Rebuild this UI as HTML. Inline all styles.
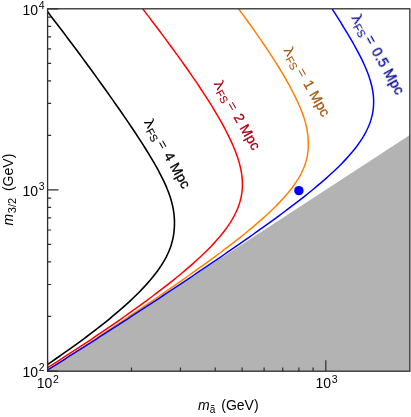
<!DOCTYPE html>
<html><head><meta charset="utf-8"><title>plot</title>
<style>html,body{margin:0;padding:0;background:#fff;}svg{display:block;}text{font-family:"Liberation Sans",sans-serif;}</style></head><body>
<svg width="411" height="417" viewBox="0 0 411 417">
<rect x="0" y="0" width="411" height="417" fill="#ffffff"/>
<clipPath id="c"><rect x="47.8" y="8.8" width="361.7" height="362.09999999999997"/></clipPath>
<polygon points="47.8,370.9 409.85,135.12 409.85,371.2 47.8,371.2" fill="#b3b3b3"/>
<g clip-path="url(#c)" fill="none" stroke-linejoin="round">
<path d="M38.57,370.90 L41.77,368.62 L44.96,366.35 L48.19,364.07 L51.48,361.79 L54.76,359.51 L58.05,357.24 L61.32,354.96 L64.56,352.68 L67.79,350.40 L70.98,348.13 L74.15,345.85 L77.29,343.57 L80.41,341.29 L83.50,339.02 L86.56,336.74 L89.59,334.46 L92.59,332.18 L95.56,329.91 L98.49,327.63 L101.39,325.35 L104.26,323.08 L107.09,320.80 L109.89,318.52 L112.65,316.24 L115.37,313.97 L118.04,311.69 L120.68,309.41 L123.27,307.13 L125.83,304.86 L128.33,302.58 L130.79,300.30 L133.19,298.02 L135.55,295.75 L137.85,293.47 L140.10,291.19 L142.30,288.92 L144.44,286.64 L146.52,284.36 L148.54,282.08 L150.49,279.81 L152.38,277.53 L154.21,275.25 L155.96,272.97 L157.65,270.70 L159.26,268.42 L160.80,266.14 L162.26,263.86 L163.65,261.59 L164.95,259.31 L166.17,257.03 L167.30,254.75 L168.35,252.48 L169.31,250.20 L170.19,247.92 L170.98,245.65 L171.68,243.37 L172.30,241.09 L172.83,238.81 L173.29,236.54 L173.67,234.26 L173.97,231.98 L174.19,229.70 L174.36,227.43 L174.45,225.15 L174.48,222.87 L174.43,220.59 L174.33,218.32 L174.16,216.04 L173.92,213.76 L173.62,211.48 L173.25,209.21 L172.81,206.93 L172.31,204.65 L171.74,202.38 L171.11,200.10 L170.42,197.82 L169.67,195.54 L168.87,193.27 L168.01,190.99 L167.10,188.71 L166.14,186.43 L165.14,184.16 L164.09,181.88 L163.01,179.60 L161.89,177.32 L160.74,175.05 L159.55,172.77 L158.34,170.49 L157.09,168.22 L155.82,165.94 L154.53,163.66 L153.21,161.38 L151.88,159.11 L150.52,156.83 L149.14,154.55 L147.75,152.27 L146.34,150.00 L144.92,147.72 L143.48,145.44 L142.03,143.16 L140.56,140.89 L139.08,138.61 L137.60,136.33 L136.10,134.05 L134.59,131.78 L133.07,129.50 L131.55,127.22 L130.01,124.95 L128.47,122.67 L126.92,120.39 L125.37,118.11 L123.80,115.84 L122.23,113.56 L120.66,111.28 L119.08,109.00 L117.49,106.73 L115.90,104.45 L114.30,102.17 L112.70,99.89 L111.09,97.62 L109.48,95.34 L107.87,93.06 L106.25,90.78 L104.62,88.51 L102.99,86.23 L101.36,83.95 L99.72,81.68 L98.08,79.40 L96.44,77.12 L94.79,74.84 L93.14,72.57 L91.48,70.29 L89.82,68.01 L88.15,65.73 L86.49,63.46 L84.81,61.18 L83.14,58.90 L81.46,56.62 L79.78,54.35 L78.09,52.07 L76.40,49.79 L74.70,47.52 L73.00,45.24 L71.30,42.96 L69.59,40.68 L67.88,38.41 L66.16,36.13 L64.45,33.85 L62.72,31.57 L61.00,29.30 L59.26,27.02 L57.53,24.74 L55.79,22.46 L54.04,20.19 L52.29,17.91 L50.54,15.63 L48.81,13.35 L47.09,11.08 L45.41,8.80" stroke="#000000" stroke-width="1.6"/>
<path d="M42.79,370.90 L46.24,368.62 L49.73,366.35 L53.25,364.07 L56.82,361.79 L60.38,359.51 L63.91,357.24 L67.45,354.96 L70.95,352.68 L74.45,350.40 L77.92,348.13 L81.39,345.85 L84.83,343.57 L88.27,341.29 L91.68,339.02 L95.08,336.74 L98.46,334.46 L101.83,332.18 L105.18,329.91 L108.51,327.63 L111.82,325.35 L115.12,323.08 L118.39,320.80 L121.65,318.52 L124.89,316.24 L128.11,313.97 L131.32,311.69 L134.50,309.41 L137.66,307.13 L140.80,304.86 L143.91,302.58 L147.01,300.30 L150.07,298.02 L153.12,295.75 L156.14,293.47 L159.14,291.19 L162.10,288.92 L165.05,286.64 L167.96,284.36 L170.84,282.08 L173.69,279.81 L176.51,277.53 L179.29,275.25 L182.04,272.97 L184.76,270.70 L187.44,268.42 L190.07,266.14 L192.67,263.86 L195.22,261.59 L197.73,259.31 L200.19,257.03 L202.61,254.75 L204.97,252.48 L207.28,250.20 L209.53,247.92 L211.73,245.65 L213.87,243.37 L215.94,241.09 L217.95,238.81 L219.90,236.54 L221.77,234.26 L223.58,231.98 L225.31,229.70 L226.97,227.43 L228.55,225.15 L230.05,222.87 L231.47,220.59 L232.81,218.32 L234.06,216.04 L235.23,213.76 L236.31,211.48 L237.31,209.21 L238.21,206.93 L239.03,204.65 L239.76,202.38 L240.40,200.10 L240.95,197.82 L241.41,195.54 L241.78,193.27 L242.07,190.99 L242.27,188.71 L242.39,186.43 L242.42,184.16 L242.38,181.88 L242.26,179.60 L242.07,177.32 L241.80,175.05 L241.46,172.77 L241.05,170.49 L240.58,168.22 L240.05,165.94 L239.46,163.66 L238.82,161.38 L238.12,159.11 L237.37,156.83 L236.57,154.55 L235.73,152.27 L234.85,150.00 L233.92,147.72 L232.96,145.44 L231.96,143.16 L230.92,140.89 L229.86,138.61 L228.76,136.33 L227.63,134.05 L226.47,131.78 L225.29,129.50 L224.08,127.22 L222.85,124.95 L221.60,122.67 L220.32,120.39 L219.02,118.11 L217.70,115.84 L216.36,113.56 L215.01,111.28 L213.63,109.00 L212.24,106.73 L210.83,104.45 L209.41,102.17 L207.97,99.89 L206.51,97.62 L205.05,95.34 L203.56,93.06 L202.07,90.78 L200.56,88.51 L199.04,86.23 L197.51,83.95 L195.97,81.68 L194.42,79.40 L192.85,77.12 L191.28,74.84 L189.70,72.57 L188.11,70.29 L186.51,68.01 L184.90,65.73 L183.28,63.46 L181.66,61.18 L180.02,58.90 L178.39,56.62 L176.74,54.35 L175.09,52.07 L173.43,49.79 L171.76,47.52 L170.09,45.24 L168.41,42.96 L166.73,40.68 L165.04,38.41 L163.35,36.13 L161.65,33.85 L159.95,31.57 L158.25,29.30 L156.54,27.02 L154.82,24.74 L153.10,22.46 L151.38,20.19 L149.65,17.91 L147.93,15.63 L146.19,13.35 L144.46,11.08 L142.72,8.80" stroke="#ff0000" stroke-width="1.5"/>
<path d="M47.28,370.90 L50.73,368.62 L54.19,366.35 L57.64,364.07 L61.09,361.79 L64.54,359.51 L67.99,357.24 L71.44,354.96 L74.88,352.68 L78.32,350.40 L81.76,348.13 L85.19,345.85 L88.62,343.57 L92.05,341.29 L95.48,339.02 L98.90,336.74 L102.32,334.46 L105.74,332.18 L109.15,329.91 L112.55,327.63 L115.96,325.35 L119.36,323.08 L122.75,320.80 L126.14,318.52 L129.52,316.24 L132.90,313.97 L136.27,311.69 L139.64,309.41 L143.00,307.13 L146.35,304.86 L149.70,302.58 L153.03,300.30 L156.36,298.02 L159.69,295.75 L163.00,293.47 L166.30,291.19 L169.60,288.92 L172.88,286.64 L176.16,284.36 L179.42,282.08 L182.67,279.81 L185.91,277.53 L189.14,275.25 L192.35,272.97 L195.55,270.70 L198.73,268.42 L201.90,266.14 L205.06,263.86 L208.19,261.59 L211.31,259.31 L214.40,257.03 L217.48,254.75 L220.54,252.48 L223.57,250.20 L226.58,247.92 L229.57,245.65 L232.53,243.37 L235.46,241.09 L238.36,238.81 L241.24,236.54 L244.08,234.26 L246.89,231.98 L249.66,229.70 L252.40,227.43 L255.10,225.15 L257.75,222.87 L260.37,220.59 L262.94,218.32 L265.47,216.04 L267.95,213.76 L270.37,211.48 L272.75,209.21 L275.07,206.93 L277.33,204.65 L279.53,202.38 L281.67,200.10 L283.74,197.82 L285.75,195.54 L287.69,193.27 L289.55,190.99 L291.34,188.71 L293.05,186.43 L294.68,184.16 L296.23,181.88 L297.69,179.60 L299.07,177.32 L300.35,175.05 L301.54,172.77 L302.63,170.49 L303.62,168.22 L304.52,165.94 L305.32,163.66 L306.01,161.38 L306.61,159.11 L307.11,156.83 L307.52,154.55 L307.84,152.27 L308.07,150.00 L308.23,147.72 L308.31,145.44 L308.32,143.16 L308.26,140.89 L308.13,138.61 L307.94,136.33 L307.68,134.05 L307.36,131.78 L306.98,129.50 L306.52,127.22 L306.01,124.95 L305.43,122.67 L304.79,120.39 L304.08,118.11 L303.33,115.84 L302.51,113.56 L301.65,111.28 L300.75,109.00 L299.79,106.73 L298.80,104.45 L297.78,102.17 L296.72,99.89 L295.62,97.62 L294.50,95.34 L293.35,93.06 L292.17,90.78 L290.97,88.51 L289.74,86.23 L288.49,83.95 L287.22,81.68 L285.93,79.40 L284.62,77.12 L283.29,74.84 L281.94,72.57 L280.57,70.29 L279.18,68.01 L277.78,65.73 L276.36,63.46 L274.93,61.18 L273.48,58.90 L272.01,56.62 L270.53,54.35 L269.04,52.07 L267.53,49.79 L266.01,47.52 L264.48,45.24 L262.93,42.96 L261.38,40.68 L259.81,38.41 L258.23,36.13 L256.64,33.85 L255.04,31.57 L253.43,29.30 L251.80,27.02 L250.18,24.74 L248.54,22.46 L246.89,20.19 L245.23,17.91 L243.57,15.63 L241.90,13.35 L240.22,11.08 L238.53,8.80" stroke="#ff8000" stroke-width="1.5"/>
<path d="M46.16,370.90 L49.72,368.62 L53.33,366.35 L56.94,364.07 L60.56,361.79 L64.17,359.51 L67.77,357.24 L71.37,354.96 L74.96,352.68 L78.55,350.40 L82.12,348.13 L85.70,345.85 L89.26,343.57 L92.82,341.29 L96.38,339.02 L99.93,336.74 L103.47,334.46 L107.01,332.18 L110.54,329.91 L114.07,327.63 L117.59,325.35 L121.10,323.08 L124.62,320.80 L128.12,318.52 L131.62,316.24 L135.11,313.97 L138.60,311.69 L142.08,309.41 L145.56,307.13 L149.03,304.86 L152.50,302.58 L155.96,300.30 L159.41,298.02 L162.86,295.75 L166.30,293.47 L169.74,291.19 L173.17,288.92 L176.59,286.64 L180.01,284.36 L183.43,282.08 L186.83,279.81 L190.23,277.53 L193.63,275.25 L197.01,272.97 L200.39,270.70 L203.77,268.42 L207.13,266.14 L210.49,263.86 L213.84,261.59 L217.18,259.31 L220.52,257.03 L223.84,254.75 L227.16,252.48 L230.47,250.20 L233.76,247.92 L237.05,245.65 L240.32,243.37 L243.59,241.09 L246.84,238.81 L250.08,236.54 L253.31,234.26 L256.53,231.98 L259.73,229.70 L262.92,227.43 L266.09,225.15 L269.24,222.87 L272.38,220.59 L275.50,218.32 L278.60,216.04 L281.68,213.76 L284.74,211.48 L287.78,209.21 L290.79,206.93 L293.78,204.65 L296.74,202.38 L299.68,200.10 L302.59,197.82 L305.46,195.54 L308.31,193.27 L311.12,190.99 L313.90,188.71 L316.64,186.43 L319.35,184.16 L322.01,181.88 L324.63,179.60 L327.21,177.32 L329.74,175.05 L332.22,172.77 L334.65,170.49 L337.03,168.22 L339.35,165.94 L341.62,163.66 L343.82,161.38 L345.97,159.11 L348.05,156.83 L350.06,154.55 L352.00,152.27 L353.87,150.00 L355.66,147.72 L357.38,145.44 L359.02,143.16 L360.58,140.89 L362.06,138.61 L363.46,136.33 L364.76,134.05 L365.99,131.78 L367.12,129.50 L368.16,127.22 L369.11,124.95 L369.98,122.67 L370.75,120.39 L371.42,118.11 L372.01,115.84 L372.51,113.56 L372.91,111.28 L373.23,109.00 L373.45,106.73 L373.59,104.45 L373.65,102.17 L373.61,99.89 L373.50,97.62 L373.31,95.34 L373.04,93.06 L372.69,90.78 L372.27,88.51 L371.78,86.23 L371.23,83.95 L370.61,81.68 L369.93,79.40 L369.19,77.12 L368.39,74.84 L367.55,72.57 L366.65,70.29 L365.71,68.01 L364.72,65.73 L363.69,63.46 L362.63,61.18 L361.53,58.90 L360.39,56.62 L359.23,54.35 L358.03,52.07 L356.81,49.79 L355.57,47.52 L354.30,45.24 L353.01,42.96 L351.70,40.68 L350.38,38.41 L349.04,36.13 L347.68,33.85 L346.31,31.57 L344.93,29.30 L343.54,27.02 L342.14,24.74 L340.72,22.46 L339.31,20.19 L337.88,17.91 L336.44,15.63 L335.00,13.35 L333.55,11.08 L332.12,8.80" stroke="#0000ff" stroke-width="1.5"/>
</g>
<circle cx="298.87" cy="190.65" r="4.7" fill="#0000ff"/>
<rect x="47.6" y="8.8" width="362.25" height="362.4" fill="none" stroke="#2e2e2e" stroke-width="1.3"/>
<path d="M131.49,370.9 v-3.3 M180.44,370.9 v-3.3 M215.18,370.9 v-3.3 M242.12,370.9 v-3.3 M264.13,370.9 v-3.3 M282.75,370.9 v-3.3 M298.87,370.9 v-3.3 M313.09,370.9 v-3.3 M325.81,370.9 v-10.7 M47.8,316.40 h3.3 M47.8,284.52 h3.3 M47.8,261.90 h3.3 M47.8,244.35 h3.3 M47.8,230.02 h3.3 M47.8,217.89 h3.3 M47.8,207.40 h3.3 M47.8,198.13 h3.3 M47.8,135.35 h3.3 M47.8,103.47 h3.3 M47.8,80.85 h3.3 M47.8,63.30 h3.3 M47.8,48.97 h3.3 M47.8,36.84 h3.3 M47.8,26.35 h3.3 M47.8,17.08 h3.3 M47.8,189.85 h10.7 M47.6,8.8 h10.7 M47.6,371.2 h10.7 M47.6,371.2 v-10.7" stroke="#2e2e2e" stroke-width="1.2" fill="none"/>
<g opacity="0.999">
<text x="22.5" y="14.6" font-size="14" fill="#000000">10<tspan font-size="10.5" dy="-5.6" dx="0.7">4</tspan></text>
<text x="22.5" y="195.7" font-size="14" fill="#000000">10<tspan font-size="10.5" dy="-5.6" dx="0.7">3</tspan></text>
<text x="22.5" y="376.8" font-size="14" fill="#000000">10<tspan font-size="10.5" dy="-5.6" dx="0.7">2</tspan></text>
<text x="36.7" y="388.2" font-size="14" fill="#000000">10<tspan font-size="10.5" dy="-5.6" dx="0.7">2</tspan></text>
<text x="315.5" y="388.2" font-size="14" fill="#000000">10<tspan font-size="10.5" dy="-5.6" dx="0.7">3</tspan></text>
<text x="198" y="409.6" font-size="14" fill="#000000"><tspan font-style="italic">m</tspan><tspan font-size="10" dy="3" dx="0">ã</tspan><tspan dy="-3" dx="6">(GeV)</tspan></text>
<text transform="translate(12.6,225.4) rotate(-90)" font-size="14" fill="#000000"><tspan font-style="italic">m</tspan><tspan font-size="11" dy="3.3" dx="0.5">3/2</tspan><tspan dy="-3.3" dx="6.9">(GeV)</tspan></text>
<g transform="translate(144.0,121.0) rotate(60.5)" font-size="14" fill="#000000"><text transform="translate(0.8,0.8) scale(1.2,1)" x="0" y="0">λ</text><text x="9.6" y="3.5" font-size="10.5" stroke="#000000" stroke-width="0.15">FS</text><text x="25.7" y="0">=</text><text x="39.7" y="0" letter-spacing="0.25" stroke="#000000" stroke-width="0.3">4 Mpc</text></g>
<g transform="translate(213.8,82.5) rotate(60.5)" font-size="14" fill="#a80014"><text transform="translate(0.8,0.8) scale(1.2,1)" x="0" y="0">λ</text><text x="9.6" y="3.5" font-size="10.5" stroke="#a80014" stroke-width="0.15">FS</text><text x="25.7" y="0">=</text><text x="39.7" y="0" letter-spacing="0.25" stroke="#a80014" stroke-width="0.3">2 Mpc</text></g>
<g transform="translate(283.5,49.0) rotate(60.5)" font-size="14" fill="#a85a10"><text transform="translate(0.8,0.8) scale(1.2,1)" x="0" y="0">λ</text><text x="9.6" y="3.5" font-size="10.5" stroke="#a85a10" stroke-width="0.15">FS</text><text x="25.7" y="0">=</text><text x="39.7" y="0" letter-spacing="0.25" stroke="#a85a10" stroke-width="0.3">1 Mpc</text></g>
<g transform="translate(351.5,16.5) rotate(60.5)" font-size="14" fill="#000090"><text transform="translate(0.8,0.8) scale(1.2,1)" x="0" y="0">λ</text><text x="9.6" y="3.5" font-size="10.5" stroke="#000090" stroke-width="0.15">FS</text><text x="25.7" y="0">=</text><text x="39.7" y="0" letter-spacing="0.25" stroke="#000090" stroke-width="0.3">0.5 Mpc</text></g>
</g>
</svg></body></html>
